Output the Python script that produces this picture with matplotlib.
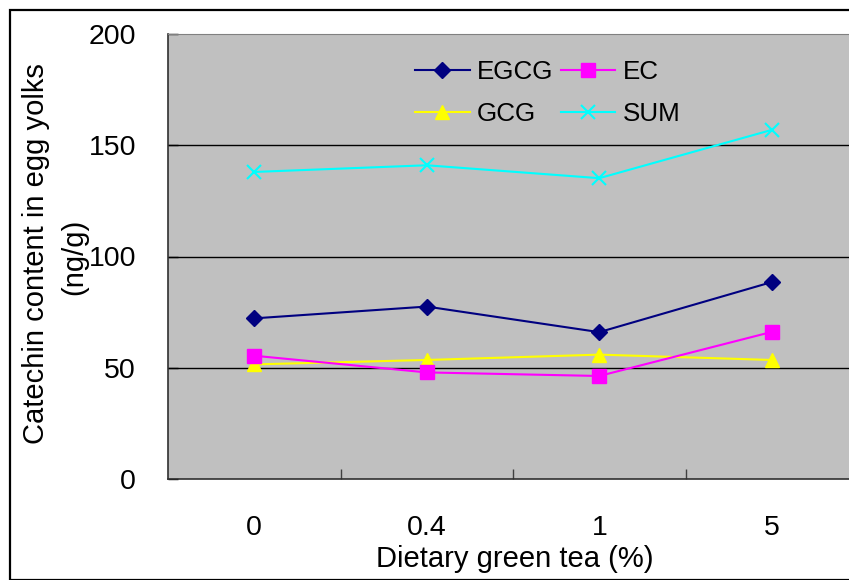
import matplotlib
matplotlib.use("Agg")
import matplotlib.pyplot as plt
from matplotlib.patches import Rectangle
from matplotlib.ticker import FixedLocator

# Catechin content in egg yolks (ng/g) by dietary green tea level
doses = ["0", "0.4", "1", "5"]
egcg = [72.2, 77.5, 66.0, 88.5]
ec = [55.4, 47.9, 46.3, 66.1]
gcg = [51.5, 53.5, 55.9, 53.5]
total = [138.0, 141.0, 135.2, 156.9]

plt.rcParams["font.family"] = ["Liberation Sans", "DejaVu Sans"]

fig = plt.figure(figsize=(8.49, 5.80), dpi=100)
W, H = 849, 580

# outer chart border
fig.patches.append(Rectangle((10 / W, 0), 1.2, (H - 10) / H, transform=fig.transFigure,
                             fill=False, edgecolor="black", linewidth=1.6))

ax = fig.add_axes([168 / W, (H - 479) / H, (858 - 168) / W, 445 / H])
ax.set_facecolor("#C0C0C0")

x = range(len(doses))
ax.plot(x, egcg, color="#000080", marker="D", markersize=8.5, linewidth=1.5, label="EGCG")
ax.plot(x, gcg, color="#FFFF00", marker="^", markersize=10, linewidth=1.5, label="GCG")
ax.plot(x, ec, color="#FF00FF", marker="s", markersize=9.5, linewidth=1.5, label="EC")
ax.plot(x, total, color="#00FFFF", marker="x", markersize=10, markeredgewidth=1.5,
        linewidth=1.5, label="SUM")

ax.set_xlim(-0.5, 3.5)
ax.set_ylim(0, 200)
ax.set_yticks([0, 50, 100, 150, 200])
for v in [50, 100, 150]:
    ax.axhline(v, color="black", linewidth=1.0, zorder=0.5)

ax.set_xticks(list(x))
ax.set_xticklabels(doses)
ax.xaxis.set_minor_locator(FixedLocator([0.5, 1.5, 2.5]))
ax.tick_params(axis="x", which="major", length=0, pad=26, labelsize=20.5)
ax.tick_params(axis="x", which="minor", direction="in", length=7, width=1, color="#404040")
ax.tick_params(axis="y", direction="in", length=7, width=1, pad=23, labelsize=20.5)

for side in ["top", "right"]:
    ax.spines[side].set_color("#808080")
for side in ["left", "bottom"]:
    ax.spines[side].set_color("#303030")
    ax.spines[side].set_linewidth(1.2)

ax.legend(ncol=2, frameon=False, fontsize=18.7, loc="upper left",
          bbox_to_anchor=(415 / W, (H - 60) / H), bbox_transform=fig.transFigure,
          handlelength=2.1, handletextpad=0.27, columnspacing=0.3, labelspacing=0.68,
          borderpad=0, borderaxespad=0)

fig.text(36 / W, (H - 254) / H, "Catechin content in egg yolks", rotation=90,
         ha="center", va="center", fontsize=21)
fig.text(74 / W, (H - 257) / H, "(ng/g)", rotation=90, ha="center", va="center", fontsize=21)
fig.text(515 / W, (H - 559) / H, "Dietary green tea (%)", ha="center", va="center", fontsize=21)

fig.savefig("out.png", dpi=100)
